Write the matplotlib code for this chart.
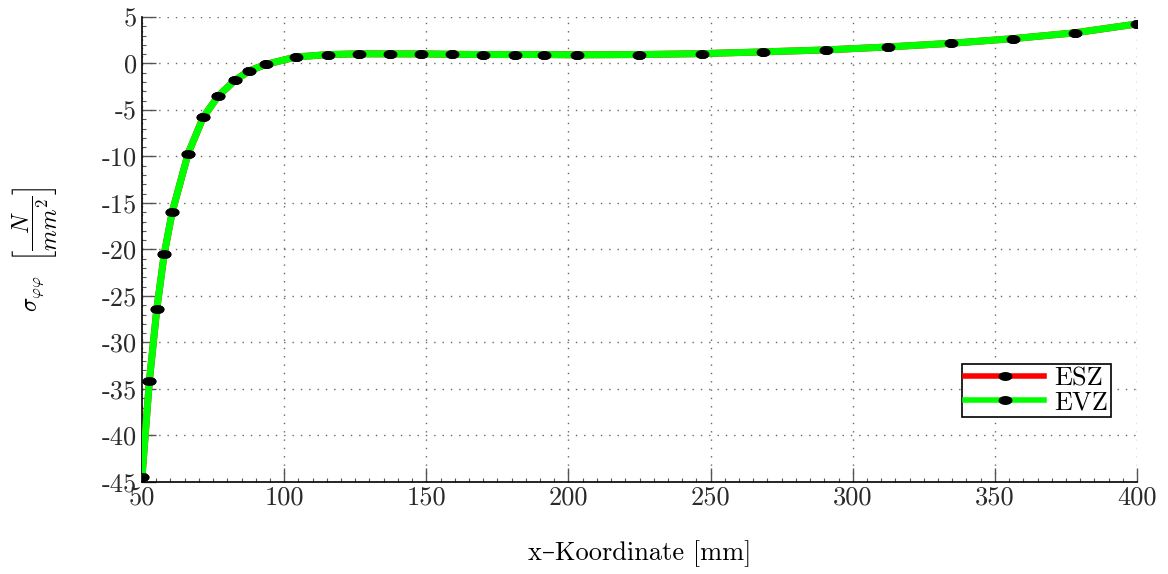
import matplotlib
matplotlib.use("Agg")
import matplotlib.pyplot as plt
import numpy as np
from matplotlib.path import Path
from matplotlib.ticker import MultipleLocator

# Werte
x_mm = [50, 52.6, 55.2, 57.8, 60.6, 66.2, 71.5, 76.8, 82.7, 87.7, 93.5,
        104.2, 115.5, 126.3, 137.3, 148.3, 159.1, 169.8, 181.2, 191.4, 202.9,
        224.9, 246.8, 268.5, 290.6, 312.5, 334.5, 356.3, 378.2, 400]
sigma_esz = [-44.45, -34.1, -26.4, -20.5, -16.0, -9.7, -5.8, -3.5, -1.8, -0.8, -0.1,
             0.7, 0.96, 1.04, 1.03, 1.03, 0.99, 0.96, 0.96, 0.96, 0.93,
             0.96, 1.06, 1.25, 1.46, 1.78, 2.17, 2.67, 3.30, 4.25]
sigma_evz = list(sigma_esz)

x_ticks = [50, 100, 150, 200, 250, 300, 350, 400]
y_ticks = [5, 0, -5, -10, -15, -20, -25, -30, -35, -40, -45]

plt.rcParams['font.family'] = ['cmr10', 'DejaVu Serif']
plt.rcParams['mathtext.fontset'] = 'cm'
plt.rcParams['axes.unicode_minus'] = False
plt.rcParams['axes.formatter.use_mathtext'] = True

# ellipsenfoermiger Marker wie im Original
t = np.linspace(0, 2 * np.pi, 40)
ellipse = Path(np.column_stack([np.cos(t), 0.6 * np.sin(t)]), closed=True)

fig = plt.figure(figsize=(11.68, 5.74), dpi=100)
ax = fig.add_axes([0.1216, 0.1603, 0.8519, 0.8101])

ax.plot(x_mm, sigma_esz, color='#ff0000', lw=5, marker=ellipse, ms=9,
        mfc='black', mec='black', label='ESZ', zorder=3)
ax.plot(x_mm, sigma_evz, color='#00ff00', lw=5, marker=ellipse, ms=9,
        mfc='black', mec='black', label='EVZ', zorder=4)

ax.set_xlim(50, 400)
ax.set_ylim(-45, 5)
ax.set_xticks(x_ticks)
ax.set_xticklabels([str(v) for v in x_ticks])
ax.set_yticks(y_ticks)
ax.set_yticklabels([str(v) for v in y_ticks])
ax.xaxis.set_minor_locator(MultipleLocator(5))
ax.yaxis.set_minor_locator(MultipleLocator(1))
ax.tick_params(which='major', direction='in', length=10, width=1,
               color='#555555', labelsize=19, labelcolor='#2a2a2a')
ax.tick_params(which='minor', direction='in', length=3, width=0.8, color='#555555')
ax.tick_params(axis='x', pad=3)

ax.grid(True, which='major', linestyle=(0, (1, 5)), color='#666666', lw=1)
ax.spines['top'].set_visible(False)
ax.spines['right'].set_visible(False)
ax.spines['left'].set_linewidth(1.2)
ax.spines['bottom'].set_linewidth(1.2)

ax.set_xlabel('x\u2013Koordinate [mm]', fontsize=19, labelpad=22)
ax.set_ylabel(r'$\sigma_{\varphi\varphi}\ \ \left[\dfrac{N}{mm^2}\right]$', fontsize=17, labelpad=30)

leg = ax.legend(loc='lower right', bbox_to_anchor=(0.974, 0.14), fontsize=19,
                frameon=True, fancybox=False, edgecolor='black', framealpha=1,
                handlelength=3.0, handletextpad=0.4, borderpad=0.1,
                labelspacing=0.0, borderaxespad=0)
leg.get_frame().set_linewidth(1.2)
for line in leg.get_lines():
    line.set_linewidth(4)

plt.savefig('out.png', dpi=100)
